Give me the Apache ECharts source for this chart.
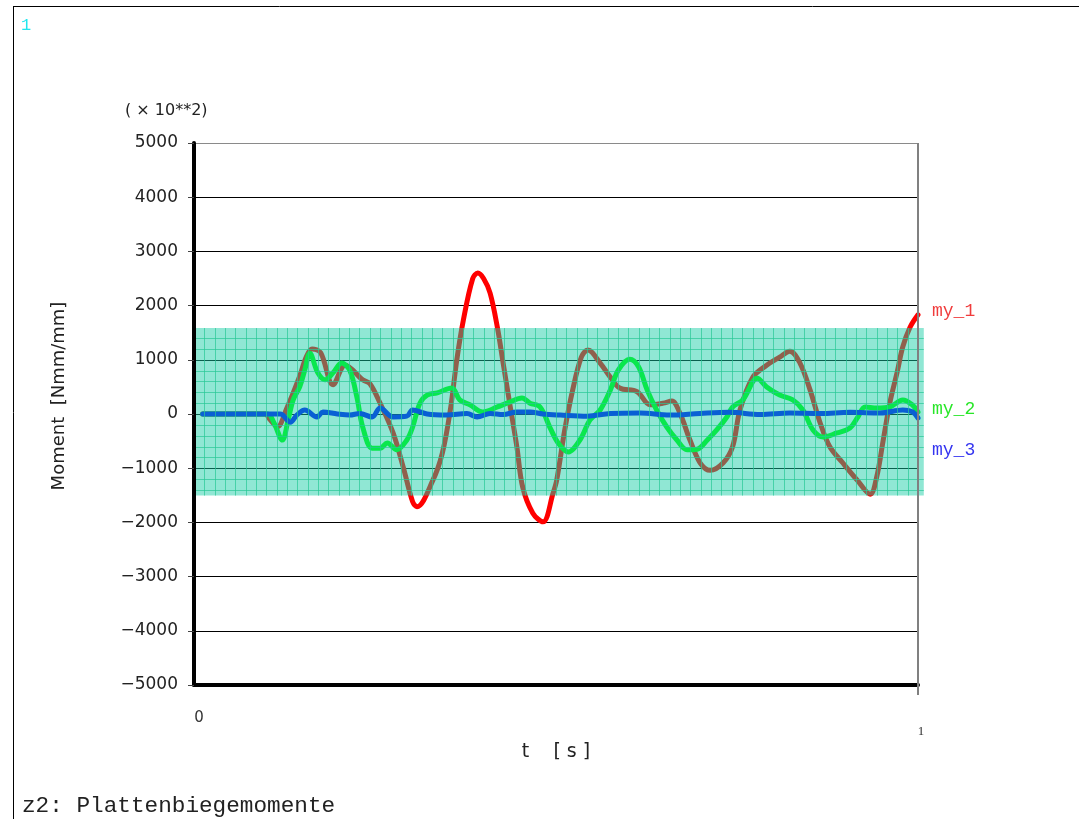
<!DOCTYPE html>
<html>
<head>
<meta charset="utf-8">
<script src="https://cdn.jsdelivr.net/npm/echarts@6/dist/echarts.min.js"></script>
<style>
html,body{margin:0;padding:0;background:#fff;}
#c{width:1079px;height:819px;}
</style>
</head>
<body>
<div id="c"></div>
<script>
// ---- data ----
var seriesNames = ['my_1', 'my_2', 'my_3'];
var yTickValues = [-5000, -4000, -3000, -2000, -1000, 0, 1000, 2000, 3000, 4000, 5000];
var xTickLabels = ['0', '1'];
var bandRange = [-1505, 1585];
var bandGridStepY = 200;
var bandGridCountX = 70;

var my1 = [[0.012,0],[0.098,0],[0.105,-100],[0.115,-240],[0.128,100],[0.146,700],[0.155,1050],[0.163,1200],[0.175,1130],[0.192,540],[0.209,900],[0.233,630],[0.243,560],[0.257,200],[0.275,-350],[0.289,-980],[0.302,-1620],[0.308,-1710],[0.330,-1220],[0.343,-720],[0.354,70],[0.363,1000],[0.372,1730],[0.385,2500],[0.392,2600],[0.400,2500],[0.409,2230],[0.419,1600],[0.427,940],[0.436,200],[0.446,-610],[0.454,-1350],[0.468,-1830],[0.482,-1990],[0.496,-1460],[0.501,-1220],[0.512,-300],[0.523,440],[0.535,1050],[0.544,1180],[0.561,940],[0.575,680],[0.588,480],[0.612,410],[0.630,170],[0.648,200],[0.660,240],[0.671,20],[0.685,-480],[0.699,-900],[0.713,-1040],[0.731,-900],[0.744,-600],[0.754,70],[0.772,680],[0.791,900],[0.809,1050],[0.823,1160],[0.837,940],[0.851,440],[0.865,-170],[0.878,-600],[0.896,-900],[0.916,-1220],[0.934,-1480],[0.943,-1160],[0.952,-480],[0.961,200],[0.971,760],[0.979,1240],[0.989,1600],[1.0,1830]];

var my2 = [[0.012,0],[0.102,0],[0.110,-150],[0.122,-480],[0.130,-110],[0.137,260],[0.146,500],[0.153,810],[0.160,1120],[0.171,760],[0.181,630],[0.192,760],[0.204,940],[0.215,810],[0.225,310],[0.233,-240],[0.246,-630],[0.257,-630],[0.267,-535],[0.280,-660],[0.294,-480],[0.302,-240],[0.312,200],[0.322,350],[0.336,390],[0.356,480],[0.367,260],[0.381,170],[0.399,37],[0.419,130],[0.436,220],[0.453,295],[0.464,200],[0.478,130],[0.492,-260],[0.503,-535],[0.517,-700],[0.533,-480],[0.547,-110],[0.561,74],[0.575,440],[0.586,810],[0.602,1010],[0.614,870],[0.626,440],[0.639,74],[0.653,-240],[0.667,-480],[0.681,-660],[0.695,-650],[0.709,-480],[0.722,-295],[0.736,-55],[0.744,130],[0.758,260],[0.778,660],[0.791,500],[0.809,350],[0.827,260],[0.841,74],[0.855,-295],[0.869,-425],[0.888,-350],[0.906,-260],[0.917,-55],[0.927,130],[0.943,110],[0.961,130],[0.979,260],[0.992,170],[1.0,37]];

var my3 = [[0.012,0],[0.119,0],[0.133,-150],[0.142,-20],[0.153,74],[0.170,-55],[0.178,37],[0.198,0],[0.215,-20],[0.229,10],[0.246,-55],[0.257,110],[0.275,-55],[0.294,-40],[0.302,74],[0.322,0],[0.349,-18],[0.377,10],[0.391,-55],[0.409,10],[0.427,-10],[0.446,37],[0.464,37],[0.482,0],[0.506,-20],[0.543,-40],[0.575,10],[0.616,20],[0.657,-20],[0.699,10],[0.740,30],[0.782,-10],[0.823,20],[0.865,10],[0.906,30],[0.948,20],[0.979,74],[0.992,40],[1.0,-74]];

// ---- chart ----
var chart = echarts.init(document.getElementById('c'), null, {renderer: 'canvas'});
var sans = 'DejaVu Sans';
var mono = 'Liberation Mono';

function minusFmt(v) { return String(v).replace('-', '\u2212'); }

var splitColors = yTickValues.map(function (v, i) { return i === yTickValues.length - 1 ? '#8a8a8a' : '#000'; });

function lineSeries(name, data, color, labelColor, offset) {
  return {
    name: name, type: 'line', data: data, showSymbol: false, symbol: 'none',
    smooth: 0.35, z: 3,
    lineStyle: {color: color, width: 5, cap: 'round', join: 'round'},
    endLabel: {show: true, formatter: name, color: labelColor, fontFamily: mono, fontSize: 18, distance: 14, offset: offset},
    emphasis: {disabled: true}
  };
}

var option = {
  animation: false,
  backgroundColor: '#fff',
  grid: {left: 194, right: 161, top: 143, bottom: 134, containLabel: false},
  xAxis: {
    type: 'value', min: 0, max: 1, interval: 1,
    name: 't    [ s ]', nameLocation: 'middle', nameGap: 55,
    nameTextStyle: {fontFamily: sans, fontSize: 19, color: '#222'},
    axisLine: {show: true, onZero: false, lineStyle: {color: '#000', width: 4}},
    axisTick: {show: false},
    splitLine: {show: false},
    axisLabel: {
      margin: 26, color: '#222',
      formatter: function (v) { return v === 0 ? '{a|' + xTickLabels[0] + '}' : '{b|' + xTickLabels[1] + '}'; },
      rich: {
        a: {fontFamily: sans, fontSize: 15, color: '#333', padding: [0, 0, 0, 10]},
        b: {fontFamily: 'Liberation Serif', fontSize: 13, color: '#333', padding: [14, 0, 0, 6]}
      }
    }
  },
  yAxis: {
    type: 'value', min: -5000, max: 5000, interval: 1000,
    name: 'Moment  [Nmm/mm]', nameLocation: 'middle', nameGap: 126, nameRotate: 90,
    nameTextStyle: {fontFamily: sans, fontSize: 18, color: '#222', padding: [0, 0, 0, 36]},
    axisLine: {show: true, onZero: false, lineStyle: {color: '#000', width: 4}},
    axisTick: {show: true, length: 6, lineStyle: {color: '#444', width: 1}},
    axisLabel: {margin: 16, fontFamily: sans, fontSize: 17, color: '#222', formatter: minusFmt},
    splitLine: {show: true, lineStyle: {color: splitColors, width: 1}}
  },
  graphic: [
    {type: 'line', shape: {x1: 13, y1: 6.5, x2: 1079, y2: 6.5}, style: {stroke: '#000', lineWidth: 1}},
    {type: 'line', shape: {x1: 13.5, y1: 6, x2: 13.5, y2: 819}, style: {stroke: '#000', lineWidth: 1}},
    {type: 'text', left: 21, top: 17, style: {text: '1', fill: '#22e6ee', font: '17px "Liberation Mono"'}},
    {type: 'text', left: 125, top: 103, style: {text: '( × 10**2)', fill: '#222', font: '16px "DejaVu Sans"'}},
    {type: 'text', left: 22, top: 794, style: {text: 'z2: Plattenbiegemomente', fill: '#222', font: '22.7px "Liberation Mono"'}}
  ],
  series: [
    lineSeries(seriesNames[0], my1, '#ff0000', '#f03c3c', [0, -4]),
    lineSeries(seriesNames[1], my2, '#00ff00', '#28e628', [0, -3]),
    lineSeries(seriesNames[2], my3, '#0000ff', '#3434f0', [0, 32]),
    {
      type: 'custom', z: 10, silent: true,
      data: [[0, 0]],
      renderItem: function (params, api) {
        var children = [];
        var tl = api.coord([0, bandRange[1]]);
        var br = api.coord([1.008, bandRange[0]]);
        children.push({type: 'rect', shape: {x: tl[0] + 2, y: tl[1], width: br[0] - tl[0] - 2, height: br[1] - tl[1]},
          style: {fill: 'rgba(20,204,163,0.47)'}});
        var k;
        for (k = 1; k * (1 / bandGridCountX) <= 1.005; k++) {
          var p = api.coord([k / bandGridCountX, 0]);
          children.push({type: 'line', shape: {x1: Math.round(p[0]) + 0.5, y1: tl[1], x2: Math.round(p[0]) + 0.5, y2: br[1]},
            style: {stroke: 'rgba(40,200,150,0.7)', lineWidth: 1}});
        }
        for (var v = Math.ceil(bandRange[0] / bandGridStepY) * bandGridStepY; v <= bandRange[1]; v += bandGridStepY) {
          if (v % 1000 === 0) continue;
          var q = api.coord([0, v]);
          children.push({type: 'line', shape: {x1: tl[0] + 2, y1: Math.round(q[1]) + 0.5, x2: br[0], y2: Math.round(q[1]) + 0.5},
            style: {stroke: 'rgba(40,200,150,0.7)', lineWidth: 1}});
        }
        var r1 = api.coord([1, 5000]);
        var r2 = api.coord([1, -5000]);
        children.push({type: 'line', shape: {x1: r1[0], y1: r1[1], x2: r2[0], y2: r2[1] + 10},
          style: {stroke: '#808080', lineWidth: 2}});
        return {type: 'group', children: children};
      }
    }
  ]
};
chart.setOption(option);
</script>
</body>
</html>
